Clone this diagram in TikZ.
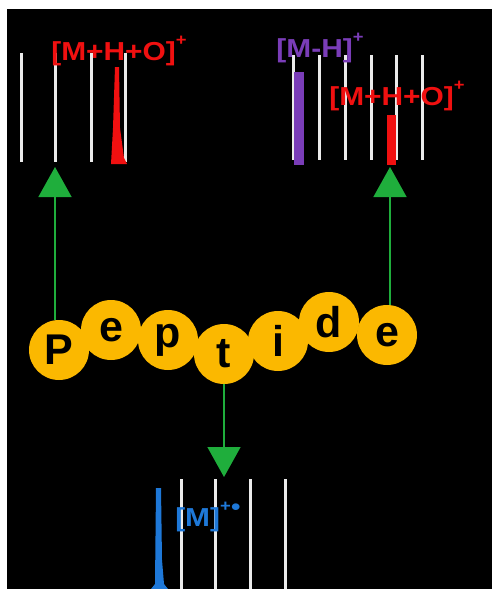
\documentclass[tikz,border=0pt]{standalone}
\usepackage{fontspec}
\setmainfont{Liberation Sans}
\usetikzlibrary{arrows.meta}
\definecolor{beadcol}{HTML}{FBB800}
\definecolor{arrowgreen}{HTML}{1FAE3C}
\definecolor{ionred}{HTML}{F01010}
\definecolor{ionpurple}{HTML}{7A3DB8}
\definecolor{ionblue}{HTML}{1E78D8}
\newcommand{\chargeup}[1]{\raisebox{0.55em}{\fontsize{16}{16}\selectfont\bfseries #1}}
\newcommand{\ionname}[1]{\scalebox{1.15}[1]{#1}}
\tikzset{
  bead/.style={circle,fill=beadcol,minimum size=60pt,inner sep=0pt,
    font=\fontsize{43}{43}\selectfont\bfseries,text=black},
  stick/.style={draw=white!92!black,line width=3pt},
  flow/.style={draw=arrowgreen,line width=1.5pt,
    -{Triangle[width=33pt,length=30pt]},color=arrowgreen},
  ionlabel/.style={font=\fontsize{26}{26}\selectfont\bfseries,inner sep=0pt}
}
\begin{document}
\begin{tikzpicture}[x=1pt,y=-1pt]
\useasboundingbox (0,0) rectangle (492,589);
\fill[white] (0,0) rectangle (492,589);
\fill[black] (7,9) rectangle (492,589);

% upper left spectrum
\foreach \xx in {21,55,91,125} \draw[stick] (\xx,53) -- (\xx,162);
\fill[ionred] (115,67) -- (119,67) -- (120,128) -- (124,158) -- (127,164)
  -- (111,164) -- (113,128) -- cycle;
\node[ionlabel,text=ionred] (lblA) at (119,51) {\ionname{[M+H+O]\chargeup{+}}};

% upper right spectrum
\foreach \xx in {293,319,345,371,396,422} \draw[stick] (\xx,55) -- (\xx,160);
\fill[ionpurple] (294,72) rectangle (304,165);
\fill[ionred] (387,115) rectangle (396,165);
\node[ionlabel,text=ionpurple] (lblB) at (320,48) {\ionname{[M-H]\chargeup{+}}};
\node[ionlabel,text=ionred] (lblC) at (397,96) {\ionname{[M+H+O]\chargeup{+}}};

% lower spectrum
\foreach \xx in {181,215,250,285} \draw[stick] (\xx,479) -- (\xx,589);
\fill[ionblue] (156,488) -- (161,488) -- (162,560) -- (164,584) -- (168,589)
  -- (151,589) -- (155,584) -- cycle;
\node[ionlabel,text=ionblue] (lblD) at (208,517) {\ionname{[M]\chargeup{+$\bullet$}}};

% peptide chain of beads
\node[bead] (b1) at (59,350) {P};
\node[bead] (b2) at (111,330) {e};
\node[bead] (b3) at (168,340) {p};
\node[bead] (b4) at (224,354) {t};
\node[bead] (b5) at (278,341) {i};
\node[bead] (b6) at (329,322) {d};
\node[bead] (b7) at (387,335) {e};

% fragment arrows
\coordinate (tipA) at (55,167);
\coordinate (tipB) at (390,167);
\coordinate (tipC) at (224,477);
\draw[flow] (b1.north -| tipA) -- (tipA);
\draw[flow] (b7.north -| tipB) -- (tipB);
\draw[flow] (b4.south) -- (tipC);
\end{tikzpicture}
\end{document}
